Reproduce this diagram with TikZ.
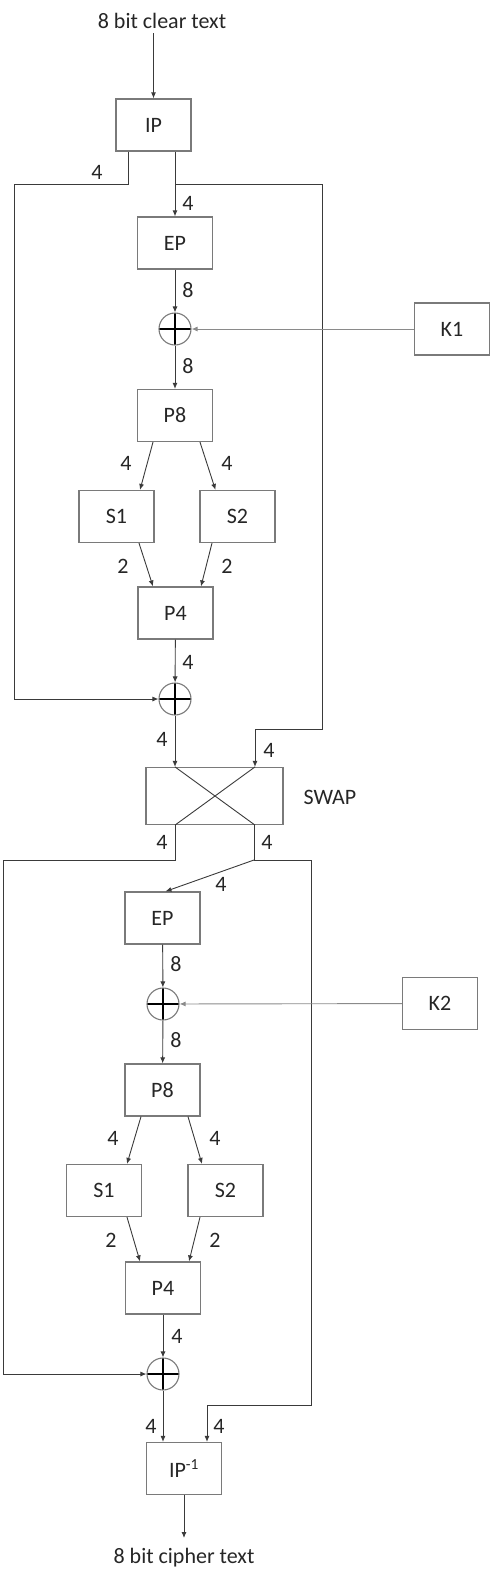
\documentclass[tikz,border=0pt]{standalone}
\usepackage{fontspec}
\setmainfont{Carlito}
\usetikzlibrary{arrows.meta}
\definecolor{boxgray}{HTML}{7A7A7A}
\definecolor{linegray}{HTML}{3A3A3A}
\definecolor{keyline}{HTML}{8A8A8A}
\begin{document}
\begin{tikzpicture}[x=1pt,y=-1pt,
  txt/.style={font=\fontsize{22}{25}\selectfont, inner sep=0pt, text=black!85},
  blk/.style={draw=boxgray, line width=1.2pt, minimum width=75pt, minimum height=52pt, inner sep=0pt, font=\fontsize{22}{25}\selectfont, text=black!85},
  xorn/.style={circle, draw=boxgray, line width=1.1pt, minimum size=32pt, inner sep=0pt,
    path picture={\draw[black, line width=2.2pt] (path picture bounding box.north) -- (path picture bounding box.south)
      (path picture bounding box.west) -- (path picture bounding box.east);}},
  wire/.style={draw=linegray, line width=0.9pt},
  arr/.style={wire, -{Latex[length=6pt,width=5pt]}},
  karr/.style={draw=keyline, line width=0.9pt, -{Latex[length=6pt,width=5pt]}}
]
\useasboundingbox (0,0) rectangle (490,1583);

% ---------- round 1 ----------
\node[txt] (in) at (162,21) {8 bit clear text};
\node[blk] (IP) at (153.5,125) {IP};
\node[blk] (EP1) at (175,243) {EP};
\node[xorn] (X1) at (175,329) {};
\node[blk] (K1) at (452,329) {K1};
\node[blk] (P81) at (175,415.5) {P8};
\node[blk] (S11) at (116.5,516.5) {S1};
\node[blk] (S21) at (237.5,516.5) {S2};
\node[blk] (P41) at (175.5,613) {P4};
\node[xorn] (X2) at (175,699) {};
\node[blk, minimum width=137pt, minimum height=57pt] (SW) at (214.5,796) {};
\node[txt] (swl) at (330,797) {SWAP};

\coordinate (in0) at (153.5,33);
\coordinate (a1) at (128,184);
\coordinate (a2) at (14,184);
\coordinate (b1) at (175,184);
\coordinate (b2) at (322,184);
\coordinate (b3) at (322,729);
\coordinate (s2) at (255,729);

\draw[arr] (in0) -- (IP.north);
\draw[wire] (IP.south -| a1) -- (a1) -- (a2);
\draw[arr] (a2) |- (X2.west);
\draw[arr] (IP.south -| EP1) -- (EP1.north);
\draw[wire] (b1) -- (b2) -- (b3) -- (s2);
\draw[arr] (s2) -- (SW.north -| s2);
\draw[arr] (EP1) -- (X1);
\draw[karr] (K1) -- (X1);
\draw[arr] (X1) -- (P81);
\draw[arr] ([xshift=-22pt]P81.south) -- ([xshift=23.5pt]S11.north);
\draw[arr] ([xshift=25pt]P81.south) -- ([xshift=-22pt]S21.north);
\draw[arr] ([xshift=22.5pt]S11.south) -- ([xshift=-22.5pt]P41.north);
\draw[arr] ([xshift=-25.5pt]S21.south) -- ([xshift=25.5pt]P41.north);
\draw[arr] (P41) -- (X2);
\draw[arr] (X2) -- (SW.north -| X2);
\draw[wire] (SW.north -| X2) -- (SW.south -| s2);
\draw[wire] (SW.north -| s2) -- (SW.south -| X2);

\node[txt] (l1) at (97,172) {4};
\node[txt] (l2) at (188,203) {4};
\node[txt] (l3) at (188,290) {8};
\node[txt] (l4) at (188,366) {8};
\node[txt] (l5) at (126,463) {4};
\node[txt] (l6) at (227,463) {4};
\node[txt] (l7) at (123,566) {2};
\node[txt] (l8) at (227,566) {2};
\node[txt] (l9) at (188,662) {4};
\node[txt] (l10) at (162,739) {4};
\node[txt] (l11) at (269,750) {4};

% ---------- round 2 ----------
\node[blk] (EP2) at (162.5,918) {EP};
\node[xorn] (X3) at (163,1004) {};
\node[blk] (K2) at (440,1003.5) {K2};
\node[blk] (P82) at (162.5,1090) {P8};
\node[blk] (S12) at (104,1190.5) {S1};
\node[blk] (S22) at (225.5,1190.5) {S2};
\node[blk] (P42) at (163,1288) {P4};
\node[xorn] (X4) at (163,1374) {};
\node[blk] (IPI) at (184,1468.5) {IP\textsuperscript{-1}};
\node[txt] (out) at (184,1558) {8 bit cipher text};

\coordinate (c1) at (175,860);
\coordinate (c2) at (3,860);
\coordinate (d1) at (254,860);
\coordinate (d2) at (311,860);
\coordinate (d3) at (311,1405);
\coordinate (d4) at (207,1405);
\coordinate (oe) at (184,1538);

\draw[wire] (SW.south -| c1) -- (c1) -- (c2);
\draw[arr] (c2) |- (X4.west);
\draw[wire] (SW.south -| d1) -- (d1) -- (d2) -- (d3) -- (d4);
\draw[arr] (d4) -- (IPI.north -| d4);
\draw[arr] (d1) -- ([xshift=3pt]EP2.north);
\draw[arr] (EP2) -- (X3);
\draw[karr] (K2) -- (X3);
\draw[arr] (X3) -- (P82);
\draw[arr] ([xshift=-21.5pt]P82.south) -- ([xshift=23pt]S12.north);
\draw[arr] ([xshift=25.5pt]P82.south) -- ([xshift=-23.5pt]S22.north);
\draw[arr] ([xshift=23pt]S12.south) -- ([xshift=-23pt]P42.north);
\draw[arr] ([xshift=-25.5pt]S22.south) -- ([xshift=26pt]P42.north);
\draw[arr] (P42) -- (X4);
\draw[arr] (X4) -- (IPI.north -| X4);
\draw[arr] (IPI.south) -- (oe);

\node[txt] (m1) at (162,842) {4};
\node[txt] (m2) at (267,842) {4};
\node[txt] (m3) at (221,884) {4};
\node[txt] (m4) at (176,964) {8};
\node[txt] (m5) at (176,1040) {8};
\node[txt] (m6) at (113,1138) {4};
\node[txt] (m7) at (215,1138) {4};
\node[txt] (m8) at (111,1240) {2};
\node[txt] (m9) at (215,1240) {2};
\node[txt] (m10) at (177,1336) {4};
\node[txt] (m11) at (151,1426) {4};
\node[txt] (m12) at (219,1426) {4};
\end{tikzpicture}
\end{document}
